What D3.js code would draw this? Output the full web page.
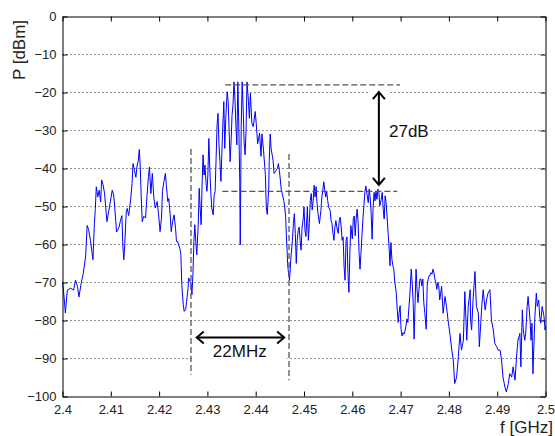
<!DOCTYPE html>
<html>
<head>
<meta charset="utf-8">
<script src="https://cdn.jsdelivr.net/npm/d3@7"></script>
<style>
  body { margin: 0; background: #fff; }
  text { font-family: Arial, "Liberation Sans", sans-serif; }
</style>
</head>
<body>
<div id="chart-area"></div>
<script>
// spectrum readings, [f GHz, P dBm]
const spectrumLow = [
  [2.4000,-70],[2.4002,-72],[2.4006,-78],[2.4010,-72],[2.4017,-71.5],[2.4023,-72],[2.4027,-69.4],
  [2.4031,-71],[2.4034,-73.8],[2.4039,-70],[2.4043,-67.6],[2.4048,-63],[2.4051,-55],[2.4054,-56],
  [2.4058,-59],[2.4061,-62],[2.4063,-64],[2.4066,-54.5],[2.4068,-50.5],[2.4070,-44.8],[2.4073,-47.5],
  [2.4076,-45.7],[2.4079,-48.8],[2.4081,-43],[2.4084,-44.3],[2.4087,-46.5],[2.4090,-51],[2.4092,-54],
  [2.4096,-51],[2.4099,-48.8],[2.4103,-45.7],[2.4106,-47],[2.4108,-50],[2.4112,-56.7],[2.4114,-56.3],
  [2.4117,-55.5],[2.4120,-53.7],[2.4123,-52.4],[2.4125,-60.6],[2.4127,-64],[2.4129,-59.7],[2.4132,-51.4],
  [2.4134,-50.5],[2.4137,-52.4],[2.4141,-48.3],[2.4144,-44],[2.4146,-38.7],[2.4149,-40.5],[2.4152,-42.3],
  [2.4154,-39.6],[2.4157,-37.8],[2.4159,-35],[2.4161,-39.6],[2.4163,-47.5],[2.4165,-54],[2.4168,-52.6],
  [2.4172,-53],[2.4175,-47],[2.4178,-42.1],[2.4180,-39.6],[2.4183,-46.6],[2.4186,-41.3],[2.4189,-47.5]
]
const spectrumChannel = [
  [2.4192,-50.4],[2.4196,-48.7],[2.4199,-52.2],[2.4202,-56.6],[2.4205,-53],[2.4207,-46],[2.4210,-43.4],
  [2.4213,-41.3],[2.4215,-44.3],[2.4218,-48.7],[2.4220,-47.9],[2.4223,-52.2],[2.4225,-56.6],[2.4228,-54],
  [2.4231,-52.2],[2.4234,-55.7],[2.4236,-59.2],[2.4238,-59.2],[2.4240,-60],[2.4243,-61],[2.4245,-62.7],
  [2.4247,-70.6],[2.4250,-75.8],[2.4252,-77.6],[2.4255,-77.1],[2.4257,-75],[2.4260,-71.5],[2.4261,-68.8],
  [2.4264,-69.7],[2.4266,-70.1],[2.4268,-73.2],[2.4270,-67.9],[2.4272,-59.2],[2.4274,-54.8],[2.4276,-59.2],
  [2.4278,-62.7],[2.4281,-54.8],[2.4283,-45.2],[2.4285,-50.4],[2.4287,-54.8],[2.4289,-44.3],[2.4291,-36.4],
  [2.4293,-41.7],[2.4295,-39.1],[2.4297,-43.4],[2.4299,-46],[2.4301,-41.7],[2.4303,-32.1],[2.4305,-40],
  [2.4307,-46],[2.4309,-50.4],[2.4312,-52.2],[2.4314,-47],[2.4316,-46],[2.4318,-37.3],[2.4320,-28.6],
  [2.4322,-25.5],[2.4324,-33.8],[2.4326,-38.2],[2.4328,-43.4],[2.4330,-35.6],[2.4332,-28.6],[2.4334,-22.4],
  [2.4336,-34.7],[2.4338,-26.8],[2.4341,-19.8],[2.4343,-22.4],[2.4345,-30.3],[2.4347,-38.2],[2.4349,-33],
  [2.4351,-26],[2.4353,-23.3],[2.4355,-17.2],[2.4357,-21.6],[2.4359,-28.6],[2.4361,-33.8],[2.4363,-17.2],
  [2.4365,-28.6],[2.4367,-43.4],[2.4368,-60.1],[2.4370,-28.6],[2.4372,-17.2],[2.4374,-24.2],[2.4376,-32.9],
  [2.4378,-36.4],[2.4380,-30.3],[2.4382,-17.2],[2.4385,-22.4],[2.4387,-26.8],[2.4389,-20.2],[2.4392,-28],
  [2.4395,-29],[2.4399,-25],[2.4401,-28],[2.4404,-33.5],[2.4408,-30.7],[2.4411,-36.8],[2.4413,-30.9],
  [2.4416,-34.9],[2.4420,-41.6],[2.4422,-50.4],[2.4424,-52.1],[2.4427,-45.1],[2.4428,-38.1],[2.4430,-30.9],
  [2.4432,-34.9],[2.4436,-37.8],[2.4438,-41.3],[2.4440,-40.9],[2.4442,-40.5],[2.4445,-40],[2.4447,-38.7],
  [2.4449,-40.5],[2.4451,-43],[2.4453,-45.7],[2.4455,-46.6],[2.4458,-48.4],[2.4460,-50.1],[2.4462,-52.7],
  [2.4463,-56.2],[2.4465,-61.5],[2.4466,-65],[2.4468,-67.6],[2.4470,-69.4]
]
const spectrumMid = [
  [2.4471,-67.6],[2.4473,-63.3],[2.4476,-58.9],[2.4478,-54.5],[2.4480,-51.9],[2.4482,-57.1],[2.4484,-65],
  [2.4486,-58.9],[2.4488,-56.2],[2.4490,-55.4],[2.4492,-58.9],[2.4494,-61.5],[2.4496,-55.4],[2.4498,-53.7],
  [2.4500,-50.1],[2.4502,-56.2],[2.4504,-57.9],[2.4507,-50.1],[2.4509,-58.9],[2.4511,-54.5],[2.4513,-48.4],
  [2.4515,-46.6],[2.4517,-50.9],[2.4519,-48.4],[2.4521,-44.4],[2.4523,-47.5],[2.4525,-44.8],[2.4527,-49.2],
  [2.4529,-51.9],[2.4532,-54.5],[2.4535,-51],[2.4537,-47.5],[2.4539,-45.7],[2.4541,-43.5],[2.4543,-45.7],
  [2.4545,-47.5],[2.4547,-46.1],[2.4549,-48.4],[2.4551,-50.1],[2.4554,-51],[2.4556,-53.7],[2.4558,-54.5],
  [2.4560,-57.1],[2.4562,-58.9],[2.4564,-55.4],[2.4566,-53.7],[2.4569,-56.2],[2.4571,-57.1],[2.4573,-53.7],
  [2.4575,-52.8],[2.4577,-55.4],[2.4579,-58.9],[2.4581,-58],[2.4583,-65.9],[2.4585,-69.4],[2.4587,-58.9],
  [2.4589,-58],[2.4591,-67.6],[2.4593,-72.6],[2.4595,-62.1],[2.4597,-55],[2.4600,-58.5],[2.4602,-53.3],
  [2.4604,-52.5],[2.4606,-57.7],[2.4608,-53.3],[2.4610,-50.7],[2.4612,-54.2],[2.4614,-62.1],[2.4616,-66.5],
  [2.4618,-62.1],[2.4620,-57.7],[2.4622,-53.3],[2.4624,-49.8],[2.4626,-46.3],[2.4628,-44.6],[2.4631,-47.2],
  [2.4633,-49],[2.4635,-45.4],[2.4637,-47.6],[2.4639,-51.6],[2.4641,-58.6],[2.4643,-50.7],[2.4645,-46.3],
  [2.4647,-48.5],[2.4649,-45.9],[2.4651,-48.1],[2.4653,-45.4],[2.4655,-46.3],[2.4657,-49.8],[2.4660,-48.1],
  [2.4662,-46.3],[2.4664,-50.7],[2.4666,-53.3],[2.4668,-47.2],[2.4670,-49],[2.4672,-52.6],[2.4674,-56.8],
  [2.4676,-60.4],[2.4678,-65.6],[2.4680,-59.5],[2.4682,-63.9],[2.4684,-65.6],[2.4686,-66.5],[2.4688,-70],
  [2.4691,-72.6],[2.4693,-77],[2.4695,-80.5],[2.4697,-77.9],[2.4699,-76.1],[2.4701,-82.3],[2.4703,-84.1],
  [2.4705,-83.2],[2.4707,-83.6],[2.4709,-82.8],[2.4711,-81.5],[2.4713,-79.6],[2.4715,-80.5],[2.4717,-77],
  [2.4719,-73.5],[2.4722,-66.5],[2.4724,-70],[2.4726,-75.3],[2.4728,-84.9],[2.4730,-75.3],[2.4732,-66.5],
  [2.4734,-71.8],[2.4736,-75.3],[2.4738,-71.8],[2.4740,-69.1],[2.4742,-69.1],[2.4744,-70.9],[2.4746,-69.1],
  [2.4748,-75.3],[2.4750,-77.9],[2.4753,-82.3],[2.4755,-70.9],[2.4757,-69.1],[2.4759,-68.2],[2.4761,-68.2],
  [2.4763,-67.4],[2.4765,-67.8],[2.4767,-66.5],[2.4769,-67.4],[2.4771,-69.1],[2.4773,-70],[2.4775,-71.8],
  [2.4777,-70],[2.4779,-70.9]
]
const spectrumHigh = [
  [2.4781,-74.6],[2.4785,-71],[2.4788,-78.1],[2.4792,-73.7],[2.4795,-76.3],[2.4799,-80.7],[2.4802,-83.4],
  [2.4806,-87.8],[2.4809,-90.4],[2.4812,-96.6],[2.4816,-94.9],[2.4819,-90.4],[2.4823,-83.4],[2.4826,-87.8],
  [2.4830,-85.2],[2.4833,-72.4],[2.4837,-85.2],[2.4840,-76.3],[2.4844,-71.9],[2.4845,-79.9],[2.4847,-82.5],
  [2.4850,-74.6],[2.4854,-67.1],[2.4857,-76.3],[2.4861,-78.1],[2.4863,-86.9],[2.4866,-80.7],[2.4868,-76.3],
  [2.4871,-71.9],[2.4875,-77.2],[2.4878,-74.6],[2.4881,-72.8],[2.4885,-71.9],[2.4888,-79.9],[2.4892,-82.5],
  [2.4895,-86],[2.4899,-86.9],[2.4902,-87.8],[2.4906,-87.8],[2.4909,-90.4],[2.4912,-94.9],[2.4916,-97.5],
  [2.4919,-98.8],[2.4923,-96.6],[2.4926,-94],[2.4930,-94.9],[2.4933,-92.2],[2.4937,-95.7],[2.4940,-89.6],
  [2.4943,-85.2],[2.4947,-83.4],[2.4949,-92.2],[2.4952,-77.2],[2.4954,-82.5],[2.4957,-85.2],[2.4959,-83.4],
  [2.4962,-76.3],[2.4964,-73.7],[2.4968,-79.9],[2.4970,-85.2],[2.4972,-80.7],[2.4974,-94],[2.4978,-79],
  [2.4981,-72.8],[2.4983,-76.3],[2.4986,-74.6],[2.4988,-79],[2.4990,-80.7],[2.4993,-76.3],[2.4997,-79],
  [2.4999,-82.5],[2.5000,-81.6]
]

// axis ticks
const xTicks = [2.4, 2.41, 2.42, 2.43, 2.44, 2.45, 2.46, 2.47, 2.48, 2.49, 2.5]
const xTickLabels = ["2.4", "2.41", "2.42", "2.43", "2.44", "2.45", "2.46", "2.47", "2.48", "2.49", "2.5"]
const yTicks = [0, -10, -20, -30, -40, -50, -60, -70, -80, -90, -100]

// annotations
const levelLines = [
  { level: -18, from: 2.4337, to: 2.4699 },
  { level: -46, from: 2.4331, to: 2.4693 }
]
const bandEdges = [
  { f: 2.4266, top: -34.9, bottom: -94.3 },
  { f: 2.4469, top: -36.2, bottom: -95.7 }
]
const bwArrow = { from: 2.4278, to: 2.4459, level: -84.5, label: "22MHz", labelF: 2.4367, labelP: -89.5 }
const dbArrow = { f: 2.4655, top: -19.9, bottom: -44.3, label: "27dB", labelF: 2.4676, labelP: -31.6 }

const MARGIN = { LEFT: 62.5, RIGHT: 9.5, TOP: 16.5, BOTTOM: 39.5 }
const W = 555, H = 436
const WIDTH = W - MARGIN.LEFT - MARGIN.RIGHT
const HEIGHT = H - MARGIN.TOP - MARGIN.BOTTOM

const svg = d3.select("#chart-area").append("svg")
  .attr("width", W)
  .attr("height", H)

const g = svg.append("g")
  .attr("transform", `translate(${MARGIN.LEFT}, ${MARGIN.TOP})`)

const x = d3.scaleLinear().domain([2.4, 2.5]).range([0, WIDTH])
const y = d3.scaleLinear().domain([-100, 0]).range([HEIGHT, 0])

// dotted horizontal grid
g.selectAll(".grid")
  .data(yTicks.filter(d => d > -100 && d < 0))
  .enter().append("line")
  .attr("class", "grid")
  .attr("x1", 0).attr("x2", WIDTH)
  .attr("y1", d => y(d)).attr("y2", d => y(d))
  .attr("stroke", "#222")
  .attr("stroke-width", 1)
  .attr("stroke-dasharray", "1,3")

// annotation groups (white backing boxes hide the grid)
const boxLayer = g.append("g")
const traceLayer = g.append("g")
const annLayer = g.append("g")

// trace
const line = d3.line()
  .x(d => x(d[0]))
  .y(d => y(d[1]))

traceLayer.append("path")
  .datum(spectrumLow.concat(spectrumChannel, spectrumMid, spectrumHigh))
  .attr("fill", "none")
  .attr("stroke", "#0000ff")
  .attr("stroke-width", 1)
  .attr("stroke-linejoin", "round")
  .attr("d", line)

// dashed reference lines
annLayer.selectAll(".lvl")
  .data(levelLines)
  .enter().append("line")
  .attr("x1", d => x(d.from)).attr("x2", d => x(d.to))
  .attr("y1", d => y(d.level)).attr("y2", d => y(d.level))
  .attr("stroke", "#555").attr("stroke-width", 1.3)
  .attr("stroke-dasharray", "6,3")

annLayer.selectAll(".edge")
  .data(bandEdges)
  .enter().append("line")
  .attr("x1", d => x(d.f)).attr("x2", d => x(d.f))
  .attr("y1", d => y(d.top)).attr("y2", d => y(d.bottom))
  .attr("stroke", "#555").attr("stroke-width", 1.3)
  .attr("stroke-dasharray", "6,3")

function chevron(sel, tx, ty, dx, dy) {
  // open arrow head pointing at (tx, ty); (dx, dy) is unit direction of pointing
  const back = 7, half = 6
  const bx = tx - dx * back, by = ty - dy * back
  const px = -dy * half, py = dx * half
  sel.append("path")
    .attr("d", `M${bx + px},${by + py}L${tx},${ty}L${bx - px},${by - py}`)
    .attr("fill", "none").attr("stroke", "#000").attr("stroke-width", 2)
}

// 22MHz arrow
const bwG = annLayer.append("g")
const bwY = y(bwArrow.level)
bwG.append("line")
  .attr("x1", x(bwArrow.from)).attr("x2", x(bwArrow.to))
  .attr("y1", bwY).attr("y2", bwY)
  .attr("stroke", "#000").attr("stroke-width", 2)
chevron(bwG, x(bwArrow.from), bwY, -1, 0)
chevron(bwG, x(bwArrow.to), bwY, 1, 0)
bwG.append("text")
  .attr("x", x(bwArrow.labelF)).attr("y", y(bwArrow.labelP))
  .attr("text-anchor", "middle")
  .attr("font-size", "17px")
  .attr("fill", "#111")
  .text(bwArrow.label)

// 27dB arrow
const dbG = annLayer.append("g")
const dbX = x(dbArrow.f)
const dbArrowG = dbG.append("g")
dbArrowG.append("line")
  .attr("x1", dbX).attr("x2", dbX)
  .attr("y1", y(dbArrow.top)).attr("y2", y(dbArrow.bottom))
  .attr("stroke", "#000").attr("stroke-width", 2)
chevron(dbArrowG, dbX, y(dbArrow.top), 0, -1)
chevron(dbArrowG, dbX, y(dbArrow.bottom), 0, 1)
const dbText = dbG.append("text")
  .attr("x", x(dbArrow.labelF)).attr("y", y(dbArrow.labelP))
  .attr("font-size", "17px")
  .attr("fill", "#111")
  .text(dbArrow.label)

// white boxes behind annotations
function backing(node, pad) {
  const b = node.getBBox()
  boxLayer.append("rect")
    .attr("x", b.x - pad).attr("y", b.y - pad)
    .attr("width", b.width + 2 * pad).attr("height", b.height + 2 * pad)
    .attr("fill", "#fff")
}
backing(bwG.node(), 3)
backing(dbArrowG.node(), 4)
backing(dbText.node(), 1)

// axes with inward ticks, box all round
const xAxis = g.append("g")
  .attr("transform", `translate(0, ${HEIGHT})`)
  .call(d3.axisBottom(x).tickValues(xTicks)
    .tickFormat((d, i) => xTickLabels[i])
    .tickSizeInner(-5).tickSizeOuter(0).tickPadding(8))
const xTop = g.append("g")
  .call(d3.axisTop(x).tickValues(xTicks).tickFormat("")
    .tickSizeInner(-5).tickSizeOuter(0))
const yAxis = g.append("g")
  .call(d3.axisLeft(y).tickValues(yTicks)
    .tickSizeInner(-5).tickSizeOuter(0).tickPadding(6))
const yRight = g.append("g")
  .attr("transform", `translate(${WIDTH}, 0)`)
  .call(d3.axisRight(y).tickValues(yTicks).tickFormat("")
    .tickSizeInner(-5).tickSizeOuter(0))

g.selectAll(".domain").attr("stroke", "#000")
g.selectAll(".tick line").attr("stroke", "#000")
g.selectAll(".tick text")
  .attr("font-family", "Arial, 'Liberation Sans', sans-serif")
  .attr("font-size", "13px")
  .attr("fill", "#222")

// axis labels
svg.append("text")
  .attr("x", 553).attr("y", 433)
  .attr("text-anchor", "end")
  .attr("font-size", "17px")
  .attr("fill", "#222")
  .text("f [GHz]")
svg.append("text")
  .attr("transform", "translate(24.5, 50) rotate(-90)")
  .attr("text-anchor", "middle")
  .attr("font-size", "17px")
  .attr("fill", "#222")
  .text("P [dBm]")
</script>
</body>
</html>
